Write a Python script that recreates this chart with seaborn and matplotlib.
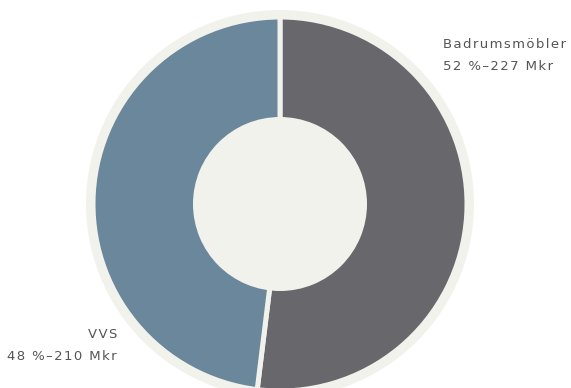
import numpy as np
import seaborn as sns
import matplotlib.pyplot as plt

labels = ['Badrumsmöbler', 'VVS']
pct = [52, 48]
mkr = [227, 210]
colors = ['#68676c', '#6a879b']
light = '#f2f2ed'

sns.set_style('white')
plt.rcParams['font.family'] = ['DejaVu Sans']

fig = plt.figure(figsize=(5.71, 3.88), dpi=100)
ax = fig.add_axes([0, 0, 1, 1])

cx, cy = 280, 184

# light outer ring
ax.pie([1], colors=[light], radius=194, center=(cx, cy), frame=True,
       wedgeprops=dict(edgecolor=light, linewidth=0))
# main slices
ax.pie(mkr, colors=colors, radius=187, center=(cx, cy), startangle=90,
       counterclock=False, frame=True,
       wedgeprops=dict(edgecolor=light, linewidth=3.6))
# centre hole
ax.pie([1], colors=[light], radius=87, center=(cx, cy), frame=True,
       wedgeprops=dict(edgecolor=light, linewidth=0))

ax.set_xlim(0, 571)
ax.set_ylim(0, 388)
ax.set_aspect('equal')
ax.axis('off')

def spaced(s):
    return '\u200a'.join(s)

txt = dict(fontsize=9.5, color='#555555')
ax.text(443, 343, spaced(labels[0]), ha='left', va='center', **txt)
ax.text(443, 322, spaced(f'{pct[0]} %–{mkr[0]} Mkr'), ha='left', va='center', **txt)
ax.text(117, 54, spaced(labels[1]), ha='right', va='center', **txt)
ax.text(117, 32, spaced(f'{pct[1]} %–{mkr[1]} Mkr'), ha='right', va='center', **txt)

fig.savefig('out.png', dpi=100, facecolor='white')
